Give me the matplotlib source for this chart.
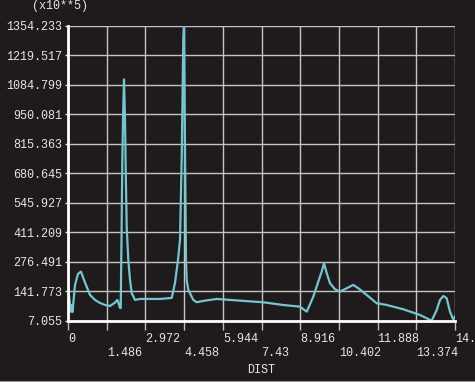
import matplotlib.pyplot as plt

# path plot of a result along DIST (values x10**5)
dist = [0.0, 0.012, 0.058, 0.104, 0.134, 0.173, 0.269, 0.384, 0.499, 0.614, 0.845,
        1.037, 1.229, 1.421, 1.613, 1.728, 1.805, 1.893, 1.939, 1.997, 2.024,
        2.054, 2.085, 2.112, 2.150, 2.189, 2.216, 2.254, 2.315, 2.381, 2.446,
        2.573, 2.765, 3.149, 3.533, 3.982, 4.109, 4.224, 4.301, 4.366, 4.397,
        4.427, 4.454, 4.493, 4.531, 4.558, 4.619, 4.811, 4.942, 5.184, 5.710,
        6.605, 7.488, 8.256, 8.909, 9.166, 9.419, 9.611, 9.742, 9.830, 9.934,
        10.060, 10.252, 10.444, 10.701, 10.955, 11.147, 11.469, 11.853, 12.237,
        12.875, 13.516, 13.965, 14.157, 14.284, 14.411, 14.541, 14.668, 14.795, 14.86]
value = [145.0, 147.7, 101.9, 48.3, 79.0, 46.9, 170.6, 221.0, 231.6, 193.5, 124.8,
         101.9, 88.2, 79.0, 74.4, 83.6, 89.5, 101.9, 88.2, 65.2, 65.2,
         376.8, 729.7, 926.7, 1109.9, 926.0, 697.0, 436.4, 285.0, 193.0, 133.0,
         102.0, 106.5, 106.5, 106.5, 111.1, 179.8, 285.2, 376.8, 757.1, 1018.3,
         1293.2, 1354.233, 789.0, 285.0, 193.0, 147.7, 101.9, 91.4, 97.3, 106.5,
         98.7, 91.4, 79.0, 71.2, 48.3, 117.0, 185.8, 231.6, 270.1, 224.2,
         178.4, 150.9, 139.9, 155.5, 170.6, 155.5, 124.8, 86.8, 79.0,
         59.3, 33.2, 7.055, 56.1, 101.9, 120.2, 109.7, 48.3, 12.0, 25.4]

xtick_labels = ["0", "1.486", "2.972", "4.458", "5.944", "7.43", "8.916",
                "10.402", "11.888", "13.374", "14.86"]
ytick_labels = ["7.055", "141.773", "276.491", "411.209", "545.927", "680.645",
                "815.363", "950.081", "1084.799", "1219.517", "1354.233"]

bg = '#1f1b1c'
txt = '#e6e6e6'
font = 'Liberation Mono'

fig = plt.figure(figsize=(4.75, 3.82), dpi=100, facecolor=bg)
ax = fig.add_axes([68/475, 1 - 320.7/382, 387/475, 294.7/382], facecolor=bg)

ax.plot(dist, value, color='#72c6d1', lw=1.6, solid_joinstyle='round')

xt = [float(s) for s in xtick_labels]
yt = [float(s) for s in ytick_labels]
ax.set_xlim(xt[0], xt[-1])
ax.set_ylim(yt[0], yt[-1])

ax.set_xticks(xt)
# alternate rows like the original plot
ax.set_xticklabels([s if i % 2 == 0 else "\n" + s for i, s in enumerate(xtick_labels)],
                   ha='left', family=font, fontsize=8.5, color=txt, linespacing=1.25)
ax.set_yticks(yt)
ax.set_yticklabels(ytick_labels, family=font, fontsize=8.5, color=txt)

ax.tick_params(axis='x', length=6.5, width=1.0, color='#bdbdbd', pad=2.5)
ax.tick_params(axis='y', length=2.5, width=1.0, color='#e6e6e6', pad=1.5)

ax.grid(True, color='#c4c4c4', lw=1.0)
ax.set_axisbelow(True)

for side in ['top', 'right']:
    ax.spines[side].set_visible(False)
for side in ['left', 'bottom']:
    ax.spines[side].set_color('white')
    ax.spines[side].set_linewidth(2.0)
    ax.spines[side].set_zorder(3)

ax.set_xlabel('DIST', family=font, fontsize=8.5, color=txt, labelpad=3)
fig.text(60/475, 1 - 6/382, '(x10**5)', family=font, fontsize=8.5, color=txt,
         ha='center', va='center')

# thin light strip along the bottom edge of the screenshot
fig.add_artist(plt.Line2D([0, 1], [0.5/382, 0.5/382], transform=fig.transFigure,
                          color='#9a9a9a', lw=1.5))

fig.savefig('out.png', dpi=100, facecolor=bg)
